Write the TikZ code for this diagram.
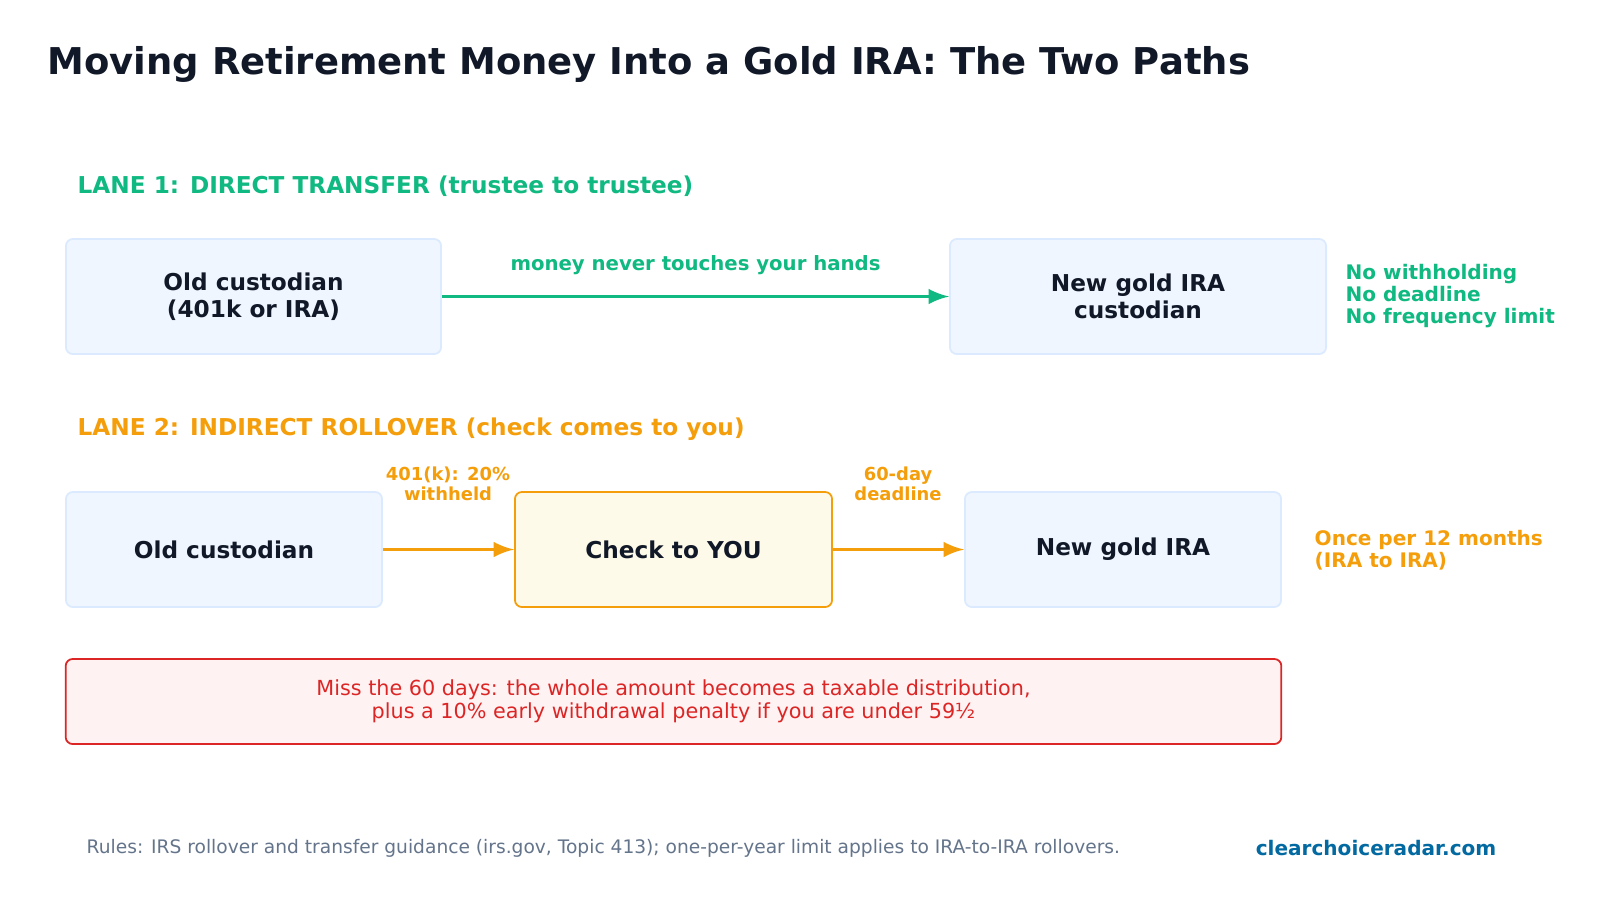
\documentclass[tikz,border=0pt]{standalone}
\usepackage{fontspec}
\setmainfont{DejaVu Sans}
\usepackage{xcolor}
\usetikzlibrary{positioning}
\definecolor{inkdark}{HTML}{111827}
\definecolor{lanegreen}{HTML}{10B981}
\definecolor{laneorange}{HTML}{F59E0B}
\definecolor{boxfill}{HTML}{EFF6FF}
\definecolor{boxline}{HTML}{DBEAFE}
\definecolor{checkfill}{HTML}{FEFAEA}
\definecolor{warnred}{HTML}{DC2626}
\definecolor{warnfill}{HTML}{FEF2F2}
\definecolor{footgray}{HTML}{64748B}
\definecolor{siteblue}{HTML}{0369A1}

\begin{document}
\begin{tikzpicture}[x=0.01cm, y=-0.01cm]
    \tikzstyle{custbox} = [rectangle, rounded corners=2pt, draw=boxline, fill=boxfill, line width=0.5pt, align=center, text=inkdark, font=\fontsize{6.6}{7.6}\selectfont\bfseries, inner sep=0pt]
    \tikzstyle{checkbox} = [custbox, draw=laneorange, fill=checkfill]
    \tikzstyle{warnbox} = [rectangle, rounded corners=2pt, draw=warnred, fill=warnfill, line width=0.5pt, align=center, text=warnred, font=\fontsize{5.9}{6.5}\selectfont, inner sep=0pt]
    \tikzstyle{lanehead} = [anchor=west, font=\fontsize{6.6}{7.5}\selectfont\bfseries, inner sep=0pt]
    \tikzstyle{note} = [align=left, anchor=west, font=\fontsize{5.7}{6.3}\selectfont\bfseries, inner sep=0pt]
    \tikzstyle{flowlabel} = [align=center, font=\fontsize{5.1}{5.8}\selectfont\bfseries, text=laneorange, inner sep=0pt]
    \tikzstyle{flow} = [-latex, line width=1pt]

    \useasboundingbox (0,0) rectangle (1600,896);
    \fill[white] (0,0) rectangle (1600,896);

    % Title
    \node [anchor=west, text=inkdark, font=\fontsize{10.5}{12}\selectfont\bfseries, inner sep=0pt] (title) at (47,64) {Moving Retirement Money Into a Gold IRA: The Two Paths};

    % Lane 1
    \node [lanehead, text=lanegreen] (lane1) at (77,186) {LANE 1: DIRECT TRANSFER (trustee to trustee)};
    \node [custbox, minimum width=3.75cm, minimum height=1.15cm] (old1) at (253.5,296.5) {Old custodian\\(401k or IRA)};
    \node [custbox, minimum width=3.76cm, minimum height=1.15cm] (new1) at (1138,296.5) {New gold IRA\\custodian};
    \draw [flow, draw=lanegreen] (old1) -- node [above=0.2cm, font=\fontsize{5.6}{6}\selectfont\bfseries, text=lanegreen, inner sep=0pt] {money never touches your hands} (new1);
    \node [note, text=lanegreen] (rules1) at (1345,296) {No withholding\\No deadline\\No frequency limit};

    % Lane 2
    \node [lanehead, text=laneorange] (lane2) at (77,429) {LANE 2: INDIRECT ROLLOVER (check comes to you)};
    \node [custbox, minimum width=3.16cm, minimum height=1.15cm] (old2) at (224,549.5) {Old custodian};
    \node [checkbox, minimum width=3.17cm, minimum height=1.15cm] (check) at (673.5,549.5) {Check to YOU};
    \node [custbox, minimum width=3.16cm, minimum height=1.15cm] (new2) at (1123,549.5) {New gold IRA};
    \draw [flow, draw=laneorange] (old2) -- (check);
    \draw [flow, draw=laneorange] (check) -- (new2);
    \node [flowlabel] (withheld) at (448,484) {401(k): 20\%\\withheld};
    \node [flowlabel] (deadline) at (898,484) {60-day\\deadline};
    \node [note, text=laneorange] (rules2) at (1314,550) {Once per 12 months\\(IRA to IRA)};

    % Warning
    \node [warnbox, minimum width=12.15cm, minimum height=0.85cm] (warn) at (673.5,701.5) {Miss the 60 days: the whole amount becomes a taxable distribution,\\plus a 10\% early withdrawal penalty if you are under 59½};

    % Footer
    \node [anchor=west, text=footgray, font=\fontsize{5.3}{6}\selectfont, inner sep=0pt] (source) at (86,848) {Rules: IRS rollover and transfer guidance (irs.gov, Topic 413); one-per-year limit applies to IRA-to-IRA rollovers.};
    \node [anchor=east, text=siteblue, font=\fontsize{5.7}{6}\selectfont\bfseries, inner sep=0pt] (site) at (1497,848) {clearchoiceradar.com};
\end{tikzpicture}
\end{document}
